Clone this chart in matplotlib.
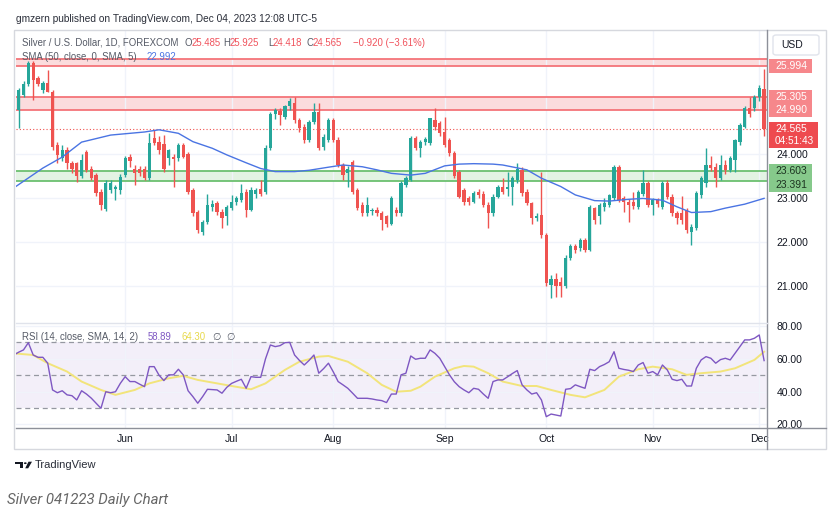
"""
Silver / U.S. Dollar daily chart (TradingView style), May - Dec 2023.
Candles with SMA(50), two resistance zones, one support zone and an RSI(14) pane.
"""

import matplotlib.pyplot as plt
from matplotlib.patches import Rectangle, FancyBboxPatch, Polygon, Circle
from matplotlib.lines import Line2D
import numpy as np

plt.rcParams['font.family'] = ['Liberation Sans', 'DejaVu Sans']

# ---- data (one candle per trading day, May 1 -> Dec 4) ----
opens = [24.95, 25.0, 25.34, 25.6, 26.07, 25.72, 25.45, 25.62, 25.42, 24.2,
         23.9, 24.09, 23.79, 23.79, 23.5, 24.05, 23.67, 23.52, 23.14, 22.74,
         23.18, 23.2, 23.18, 23.52, 23.94, 23.67, 23.65, 23.67, 23.45, 24.36,
         24.28, 24.23, 23.9, 23.94, 23.9, 24.2, 24.0, 23.18, 22.69, 22.23,
         22.46, 22.79, 22.88, 22.69, 22.58, 22.77, 22.92, 22.96, 23.14, 22.73,
         23.1, 23.2, 23.14, 24.13, 24.92, 24.98, 24.85, 25.08, 25.15, 24.77,
         24.62, 24.32, 24.73, 24.96, 24.17, 24.32, 24.77, 24.32, 23.75, 23.56,
         23.82, 23.18, 22.84, 22.65, 22.7, 22.73, 22.65, 22.58, 22.42, 22.72,
         22.65, 23.3, 23.41, 24.36, 24.13, 24.28, 24.24, 24.77, 24.7, 24.5,
         24.32, 24.02, 23.6, 23.18, 22.99, 22.92, 23.14, 23.1, 22.84, 22.65,
         23.03, 23.26, 23.2, 23.26, 23.41, 23.64, 23.14, 22.88, 22.54, 22.62,
         22.16, 21.02, 21.17, 21.08, 20.99, 21.63, 21.9, 21.86, 22.05, 21.82,
         22.77, 22.58, 22.8, 22.84, 23.0, 23.71, 22.99, 22.92, 22.9, 22.8,
         23.1, 23.33, 22.84, 22.95, 22.8, 23.33, 23.03, 22.65, 22.65, 22.73,
         22.23, 22.31, 23.07, 23.33, 23.75, 23.71, 23.45, 23.75, 23.64, 23.86,
         24.28, 24.62, 25.04, 25.04, 25.3, 25.485]
highs = [25.15, 25.49, 25.65, 26.12, 26.12, 25.78, 25.66, 25.92, 25.46, 24.27,
         24.2, 24.15, 23.85, 23.82, 24.0, 24.1, 23.72, 23.56, 23.2, 23.4,
         23.4, 23.3, 23.55, 23.95, 24.0, 23.75, 23.72, 23.72, 24.47, 24.55,
         24.4, 24.43, 24.12, 24.0, 24.25, 24.25, 24.05, 23.22, 22.72, 22.5,
         23.1, 22.95, 22.93, 22.75, 22.85, 23.07, 23.05, 23.32, 23.2, 23.26,
         23.22, 23.41, 24.2, 24.95, 25.05, 25.05, 25.12, 25.27, 25.3, 24.82,
         24.68, 24.78, 25.15, 25.15, 24.45, 24.82, 24.82, 24.38, 23.8, 23.72,
         23.86, 23.22, 22.9, 23.03, 22.78, 22.8, 22.7, 22.62, 23.05, 22.8,
         23.38, 23.5, 24.4, 24.42, 24.32, 24.38, 24.82, 25.04, 24.75, 24.85,
         24.36, 24.06, 23.64, 23.22, 23.05, 23.15, 23.2, 23.15, 22.9, 23.08,
         23.3, 23.45, 23.6, 23.5, 23.79, 23.7, 23.2, 22.92, 22.65, 23.6,
         22.2, 21.25, 21.3, 21.2, 21.7, 21.95, 21.95, 22.1, 22.1, 22.85,
         22.8, 22.88, 23.0, 23.1, 23.75, 23.75, 23.05, 22.98, 23.14, 23.18,
         23.64, 23.38, 23.0, 23.0, 23.38, 23.4, 23.08, 22.7, 23.05, 22.78,
         22.4, 23.15, 23.5, 24.13, 23.95, 23.8, 23.98, 23.86, 23.95, 24.35,
         24.7, 25.08, 25.3, 25.35, 25.57, 25.925]
lows = [24.85, 24.59, 25.3, 25.55, 25.23, 25.55, 25.38, 25.4, 24.1, 23.79,
        23.85, 23.67, 23.56, 23.37, 23.45, 23.6, 23.4, 23.05, 22.73, 22.7,
        23.12, 22.95, 23.1, 23.48, 23.7, 23.3, 23.5, 23.4, 23.42, 24.2,
        24.0, 23.6, 23.75, 23.26, 23.85, 23.9, 23.1, 22.6, 22.2, 22.16,
        22.4, 22.7, 22.62, 22.31, 22.38, 22.72, 22.85, 22.9, 22.56, 22.7,
        23.0, 23.05, 23.1, 24.1, 24.8, 24.65, 24.8, 25.0, 24.7, 24.5,
        24.25, 24.28, 24.68, 24.1, 24.1, 24.28, 24.28, 23.7, 23.4, 23.26,
        23.1, 22.72, 22.6, 22.6, 22.62, 22.6, 22.27, 22.35, 22.38, 22.6,
        22.6, 23.25, 23.38, 24.08, 23.94, 24.2, 24.2, 24.55, 24.4, 24.15,
        23.95, 23.45, 23.0, 22.84, 22.85, 22.88, 23.0, 22.8, 22.31, 22.6,
        23.0, 23.1, 23.05, 22.84, 23.35, 23.05, 22.85, 22.42, 22.48, 22.1,
        21.0, 20.72, 20.75, 20.75, 20.95, 21.6, 21.75, 21.8, 21.78, 21.8,
        22.4, 22.4, 22.7, 22.8, 22.95, 22.9, 22.69, 22.46, 22.75, 22.75,
        23.05, 22.8, 22.62, 22.8, 22.75, 22.98, 22.6, 22.4, 22.4, 22.2,
        21.93, 22.28, 23.0, 23.25, 23.62, 23.26, 23.4, 23.55, 23.6, 23.6,
        24.2, 24.58, 24.85, 24.98, 25.2, 24.418]
closes = [25.05, 25.45, 25.6, 26.07, 25.68, 25.6, 25.62, 25.42, 24.17, 23.98,
          24.09, 23.79, 23.67, 23.5, 23.86, 23.64, 23.45, 23.11, 22.84, 23.33,
          23.35, 23.25, 23.48, 23.9, 23.83, 23.56, 23.56, 23.45, 24.24, 24.24,
          24.09, 23.67, 24.09, 23.89, 24.2, 23.94, 23.14, 22.65, 22.27, 22.46,
          22.84, 22.86, 22.69, 22.54, 22.8, 22.92, 22.99, 23.12, 22.73, 23.18,
          23.18, 23.1, 24.13, 24.92, 25.0, 24.88, 25.08, 25.21, 24.77, 24.58,
          24.32, 24.73, 24.96, 24.13, 24.39, 24.77, 24.32, 23.75, 23.52, 23.67,
          23.14, 22.77, 22.65, 22.84, 22.73, 22.65, 22.5, 22.42, 22.99, 22.65,
          23.33, 23.45, 24.36, 24.13, 24.28, 24.33, 24.81, 24.62, 24.47, 24.2,
          24.02, 23.49, 23.03, 22.9, 22.92, 23.11, 23.07, 22.84, 22.65, 23.03,
          23.26, 23.14, 23.24, 23.45, 23.67, 23.11, 22.88, 22.54, 22.6, 22.16,
          21.06, 21.17, 20.99, 21.0, 21.63, 21.9, 21.82, 22.05, 21.82, 22.8,
          22.5, 22.84, 22.88, 23.07, 23.71, 22.95, 22.92, 22.84, 22.82, 23.14,
          23.33, 22.84, 22.95, 22.86, 23.33, 23.03, 22.65, 22.54, 22.5, 22.27,
          22.33, 23.11, 23.45, 23.75, 23.68, 23.45, 23.75, 23.64, 23.9, 24.32,
          24.66, 25.04, 24.9, 25.3, 25.49, 24.565]

# SMA(50) as drawn on the chart (bar index, value)
sma_idx = [0, 6, 10, 14, 20, 27, 30, 34, 37, 41, 44, 48, 51, 54, 58, 61, 65, 68,
           72, 75, 78, 82, 85, 89, 92, 95, 99, 101, 106, 109, 113, 116, 120, 123,
           127, 130, 134, 137, 140, 144, 147, 151, 155]
sma_vals = [23.23, 23.68, 23.93, 24.27, 24.43, 24.5, 24.55, 24.47, 24.28, 24.13,
            23.98, 23.8, 23.67, 23.6, 23.6, 23.63, 23.7, 23.75, 23.71, 23.64,
            23.56, 23.52, 23.56, 23.73, 23.77, 23.78, 23.77, 23.75, 23.64, 23.45,
            23.26, 23.07, 22.94, 22.93, 22.97, 22.99, 22.95, 22.8, 22.67, 22.69,
            22.77, 22.86, 22.992]

# RSI(14), one value per bar
rsi_vals = [62.3, 64.0, 65.4, 69.8, 62.3, 60.9, 60.9, 57.3, 41.0, 39.3,
            40.5, 38.0, 37.5, 34.9, 40.5, 38.5, 36.0, 32.9, 29.8, 39.9,
            39.3, 39.9, 45.0, 49.1, 46.1, 46.1, 44.5, 43.0, 55.2, 55.2,
            50.0, 46.7, 50.2, 50.2, 53.6, 50.2, 40.5, 36.9, 32.9, 36.9,
            41.4, 41.2, 41.0, 39.0, 42.6, 45.0, 46.3, 47.5, 42.0, 49.1,
            48.7, 48.7, 60.0, 68.4, 67.4, 68.0, 69.8, 70.0, 62.3, 59.0,
            56.2, 59.0, 62.3, 51.2, 54.0, 57.3, 52.0, 46.1, 44.1, 42.0,
            39.0, 35.9, 35.9, 35.9, 35.5, 34.9, 34.5, 33.3, 38.5, 38.5,
            50.2, 51.2, 61.7, 59.7, 60.3, 60.3, 65.4, 63.3, 60.3, 55.2,
            50.2, 46.0, 43.0, 41.0, 39.3, 42.0, 41.4, 38.5, 35.9, 46.1,
            47.1, 47.1, 49.0, 51.0, 52.8, 44.1, 41.0, 38.5, 39.3, 34.9,
            24.7, 26.3, 25.7, 25.1, 41.4, 41.8, 44.1, 43.0, 42.0, 53.6,
            52.8, 55.2, 56.5, 58.2, 64.3, 54.2, 53.5, 53.0, 52.2, 56.2,
            57.7, 51.2, 52.2, 50.2, 56.2, 53.2, 47.5, 46.7, 47.5, 43.4,
            43.4, 54.2, 59.3, 61.3, 60.3, 57.3, 59.5, 60.3, 59.3, 63.3,
            67.4, 71.5, 71.5, 72.5, 74.5, 58.89]

# RSI moving average (yellow), read at these bars
rsi_ma_idx = [0, 4, 7, 11, 14, 18, 21, 25, 28, 32, 35, 38, 42, 45, 49, 52, 56,
              59, 63, 65, 69, 73, 76, 79, 82, 84, 87, 91, 93, 95, 98, 101, 105,
              108, 111, 115, 118, 122, 125, 129, 132, 136, 139, 142, 146, 149,
              153, 155]
rsi_ma_vals = [63.3, 62.3, 57.3, 52.2, 46.1, 41.0, 38.0, 41.0, 45.0, 48.1, 49.6,
               47.1, 45.0, 43.4, 41.4, 45.0, 53.2, 58.2, 61.3, 61.7, 58.2, 51.2,
               44.1, 39.9, 40.5, 43.0, 49.1, 54.2, 55.6, 55.2, 51.2, 46.1, 43.4,
               43.4, 41.0, 38.0, 36.5, 41.0, 49.1, 53.6, 55.2, 53.6, 50.2, 51.2,
               52.2, 54.2, 59.3, 64.30]

months = ['Jun', 'Jul', 'Aug', 'Sep', 'Oct', 'Nov', 'Dec']
month_idx = [23, 45, 66, 89, 110, 132, 154]

price_ticks = [21, 22, 23, 24]
rsi_ticks = [20, 40, 60, 80]

res_top = (25.994, 26.15)
res_mid = (24.990, 25.305)
sup_zone = (23.391, 23.603)
last_price = 24.565

# ---- colours ----
UP = '#26a69a'
DOWN = '#ef5350'
SMA_C = '#4a74e3'
RSI_C = '#7e57c2'
RSI_MA_C = '#f2e47a'
RED_LINE = '#f47479'
RED_FILL = '#fbdcdd'
GRN_LINE = '#6cc070'
GRN_FILL = '#e3f3e3'
TXT = '#131722'
GREY = '#555a66'

W, H = 836, 528
fig = plt.figure(figsize=(W / 100, H / 100), dpi=100)
fig.patch.set_facecolor('white')


def fx(px):
    return px / W


def fy(py):
    return 1 - py / H


ax = fig.add_axes([fx(16), fy(323), (767 - 16) / W, (323 - 30) / H])
rax = fig.add_axes([fx(16), fy(428), (767 - 16) / W, (428 - 323) / H], sharex=ax)

# ---- main pane ----
o = np.array(opens)
h = np.array(highs)
l = np.array(lows)
c = np.array(closes)
bars = np.arange(len(o))
col = np.where(c >= o, UP, DOWN)

ax.axhspan(*res_top, color=RED_FILL, zorder=0.5, lw=0)
ax.axhspan(*res_mid, color=RED_FILL, zorder=0.5, lw=0)
ax.axhspan(*sup_zone, color=GRN_FILL, zorder=0.5, lw=0)
for lev in res_top + res_mid:
    ax.axhline(lev, color=RED_LINE, lw=1.3, zorder=1)
for lev in sup_zone:
    ax.axhline(lev, color=GRN_LINE, lw=1.3, zorder=1)
ax.axhline(last_price, color=DOWN, lw=0.8, ls=(0, (1, 2)), zorder=1)

ax.vlines(bars, l, h, colors=col, lw=1, zorder=2)
ax.bar(bars, np.maximum(np.abs(c - o), 0.015), bottom=np.minimum(o, c),
       width=0.68, color=col, lw=0, zorder=2)
ax.plot(sma_idx, sma_vals, color=SMA_C, lw=1, zorder=3)

ax.set_xlim(0.45, 155.6)
ax.set_ylim(20.159, 26.818)
ax.set_yticks(price_ticks)
ax.set_yticklabels([f'{t:.3f}' for t in price_ticks])
ax.yaxis.tick_right()
ax.tick_params(axis='y', length=0, pad=7, labelsize=7.5, labelcolor=TXT)
ax.tick_params(axis='x', length=0, labelbottom=False)
ax.set_xticks(month_idx)
ax.grid(True, color='#f0f3fa', lw=1)
ax.set_axisbelow(True)
for s in ax.spines.values():
    s.set_visible(False)

# ---- RSI pane ----
rax.axhspan(30, 70, color=RSI_C, alpha=0.09, lw=0, zorder=0.5)
for lev in (70, 50, 30):
    rax.axhline(lev, color='#9598a1', lw=0.9, ls=(0, (4, 3)), zorder=1)
rax.plot(bars, rsi_vals, color=RSI_C, lw=1, zorder=3)
rax.plot(rsi_ma_idx, rsi_ma_vals, color=RSI_MA_C, lw=1.4, zorder=2)
rax.set_ylim(17.8, 81.8)
rax.set_yticks(rsi_ticks)
rax.set_yticklabels([f'{t:.2f}' for t in rsi_ticks])
rax.yaxis.tick_right()
rax.tick_params(axis='y', length=0, pad=7, labelsize=7.5, labelcolor=TXT)
rax.set_xticks(month_idx)
rax.set_xticklabels(months)
rax.tick_params(axis='x', length=0, pad=4, labelsize=7.5, labelcolor=TXT)
rax.grid(True, color='#f0f3fa', lw=1)
rax.set_axisbelow(True)
for s in rax.spines.values():
    s.set_visible(False)

# ---- frame and separators ----
fig.add_artist(Rectangle((fx(14), fy(449)), (826 - 14) / W, (449 - 30) / H,
                         transform=fig.transFigure, fill=False,
                         edgecolor='#d6d8de', lw=1))
fig.add_artist(Line2D([fx(767), fx(767)], [fy(30), fy(449)], color='#8d9099', lw=1))
fig.add_artist(Line2D([fx(16), fx(826)], [fy(428), fy(428)], color='#8d9099', lw=1))
fig.add_artist(Line2D([fx(16), fx(767)], [fy(323), fy(323)], color='#e0e3eb', lw=1))


def ypix(axis, value):
    # pixel row (from top) of a value on the given axis
    return H - axis.transData.transform((0, value))[1]


def tag(y_top, y_bot, face, right=812):
    fig.add_artist(Rectangle((fx(769), fy(y_bot)), (right - 769) / W, (y_bot - y_top) / H,
                             transform=fig.transFigure, facecolor=face,
                             edgecolor='none', zorder=5))


def tag_text(y, s, color):
    fig.text(fx(775), fy(y), s, fontsize=7.5, color=color, va='center',
             ha='left', zorder=6)


# right axis price tags
y = ypix(ax, res_top[0])
tag(y - 7, y + 7, '#f6878b')
tag_text(y, f'{res_top[0]:.3f}', 'white')
for lev in (res_mid[1], res_mid[0]):
    y = ypix(ax, lev)
    tag(y - 7, y + 7, '#f6878b')
    tag_text(y, f'{lev:.3f}', 'white')
y = ypix(ax, last_price)
tag(y - 7, y + 19, '#ee4a4f', right=818)
tag_text(y, f'{last_price:.3f}', 'white')
fig.text(fx(775), fy(y + 12), '04:51:43', fontsize=7.2, color='white',
         va='center', ha='left', zorder=6)
y = ypix(ax, sup_zone[1])
tag(y - 7, y + 21, '#86c98b')
tag_text(y, f'{sup_zone[1]:.3f}', '#1c3320')
tag_text(y + 14, f'{sup_zone[0]:.3f}', '#1c3320')

# USD box
fig.add_artist(FancyBboxPatch((fx(773), fy(55)), (819 - 773) / W, (55 - 35) / H,
                              boxstyle='round,pad=0,rounding_size=0.004',
                              transform=fig.transFigure, facecolor='white',
                              edgecolor='#e0e3eb', lw=1))
fig.text(fx(781), fy(45), 'USD', fontsize=7.5, color=TXT, va='center')

# ---- header / legends ----
LEG = 6.9
fig.text(fx(16), fy(19.5), 'gmzern published on TradingView.com, Dec 04, 2023 12:08 UTC-5',
         fontsize=7.3, color='#2a2e39', va='center')
fig.text(fx(22), fy(42.5), 'Silver / U.S. Dollar, 1D, FOREXCOM', fontsize=LEG,
         color=GREY, va='center')
ohlc = [('O', 184.5, '25.485', 191.5), ('H', 223, '25.925', 229.5),
        ('L', 268, '24.418', 272.5), ('C', 306.5, '24.565', 312.5)]
for letter, lx, val, vx in ohlc:
    fig.text(fx(lx), fy(42.5), letter, fontsize=LEG, color=GREY, va='center')
    fig.text(fx(vx), fy(42.5), val, fontsize=LEG, color='#f0525c', va='center')
fig.text(fx(353), fy(42.5), '\u22120.920 (\u22123.61%)', fontsize=LEG,
         color='#f0525c', va='center')
fig.text(fx(22), fy(57), 'SMA (50, close, 0, SMA, 5)', fontsize=LEG, color=GREY,
         va='center')
fig.text(fx(147), fy(57), f'{sma_vals[-1]:.3f}', fontsize=LEG, color=SMA_C, va='center')

fig.text(fx(22), fy(337), 'RSI (14, close, SMA, 14, 2)', fontsize=LEG, color=GREY,
         va='center')
fig.text(fx(148), fy(337), f'{rsi_vals[-1]:.2f}', fontsize=LEG, color=RSI_C, va='center')
fig.text(fx(182), fy(337), f'{rsi_ma_vals[-1]:.2f}', fontsize=LEG, color='#e8d94a',
         va='center')
fig.text(fx(212), fy(337), '\u2205', fontsize=LEG, color=GREY, va='center',
         family='DejaVu Sans')
fig.text(fx(226), fy(337), '\u2205', fontsize=LEG, color=GREY, va='center',
         family='DejaVu Sans')

# ---- TradingView logo + caption ----
logo = '#131722'
fig.add_artist(Polygon([(fx(15), fy(461.7)), (fx(23), fy(461.7)), (fx(23), fy(468.3)),
                        (fx(20), fy(468.3)), (fx(20), fy(464.2)), (fx(15), fy(464.2))],
                       closed=True, transform=fig.transFigure, facecolor=logo,
                       edgecolor='none'))
fig.add_artist(Circle((fx(25.3), fy(463.2)), 1.4 / W, transform=fig.transFigure,
                      facecolor=logo, edgecolor='none'))
fig.add_artist(Polygon([(fx(28.5), fy(461.7)), (fx(32), fy(461.7)), (fx(28.2), fy(468.3)),
                        (fx(25.2), fy(468.3))], closed=True, transform=fig.transFigure,
                       facecolor=logo, edgecolor='none'))
fig.text(fx(35), fy(465), 'TradingView', fontsize=8, color='#2a2e39', va='center')
fig.text(fx(7), fy(500), 'Silver 041223 Daily Chart', fontsize=10.8, color='#666666',
         va='center', style='italic', family=['Roboto', 'Liberation Sans'])

fig.savefig('out.png', dpi=100, facecolor='white')
plt.close(fig)
